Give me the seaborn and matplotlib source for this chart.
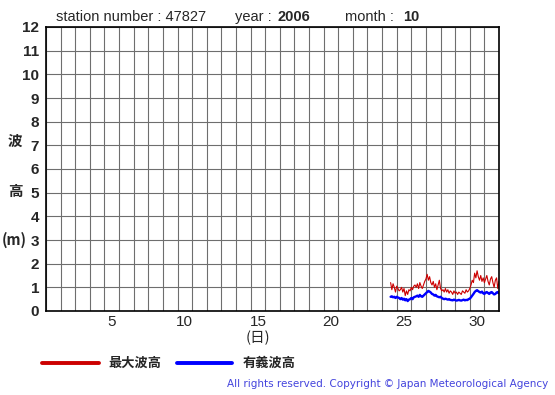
import numpy as np
import pandas as pd
import matplotlib
matplotlib.use("Agg")
import matplotlib.pyplot as plt
import seaborn as sns

# 観測データ (2006年10月, 地点 47827), 2時間ごと, 24日14時から
start_day = 24
start_hour = 14
step_hours = 2

max_wave = [1.2, 0.9, 1.15, 1.0, 0.8, 1.05, 0.95, 0.85,
            0.9, 1.0, 0.8, 0.95, 0.65, 0.85, 0.7, 0.9,
            0.85, 1.0, 0.9, 1.05, 1.1,
            1.0, 1.15, 0.95, 1.2, 1.05, 0.95, 1.1, 1.25,
            1.35, 1.55, 1.3, 1.45, 1.2, 1.1,
            1.25, 1.0, 1.15, 0.9, 1.1, 1.3, 0.95, 0.85, 0.9, 0.8, 0.95,
            0.8, 0.9, 0.75, 0.85, 0.8, 0.7, 0.85, 0.75, 0.8, 0.7,
            0.8, 0.75, 0.7, 0.85, 0.8, 0.75, 0.9, 0.8, 0.85, 0.95,
            1.1, 1.3, 1.2, 1.6, 1.4, 1.7, 1.45,
            1.3, 1.5, 1.25, 1.4, 1.2, 1.35, 1.5, 1.25,
            1.1, 1.35, 1.45, 1.2, 1.0, 1.3, 1.4, 0.95, 1.25]

sig_wave = [0.6, 0.62, 0.58, 0.6, 0.55, 0.6, 0.57, 0.55,
            0.5, 0.55, 0.48, 0.52, 0.45, 0.5, 0.42, 0.48,
            0.5, 0.55, 0.5, 0.58, 0.6,
            0.62, 0.65, 0.6, 0.68, 0.62, 0.6, 0.65, 0.7,
            0.75, 0.8, 0.85, 0.82, 0.78, 0.72,
            0.7, 0.65, 0.68, 0.62, 0.6, 0.58, 0.6, 0.55, 0.52, 0.5, 0.52,
            0.5, 0.48, 0.5, 0.47, 0.46, 0.45, 0.48, 0.46, 0.44, 0.45,
            0.47, 0.45, 0.44, 0.46, 0.48, 0.45, 0.47, 0.46, 0.5, 0.52,
            0.58, 0.65, 0.72, 0.8, 0.85, 0.88, 0.84,
            0.8, 0.78, 0.82, 0.75, 0.72, 0.78, 0.8, 0.76,
            0.72, 0.78, 0.8, 0.75, 0.7, 0.72, 0.78, 0.8, 0.75]

day_labels = [5, 10, 15, 20, 25, 30]
y_ticks = list(range(0, 13))

hours = start_hour + step_hours * np.arange(len(sig_wave))
df = pd.DataFrame({
    "day": start_day + hours / 24.0,
    "max": max_wave,
    "sig": sig_wave,
})

sns.set_style("white")
plt.rcParams["font.family"] = ["Noto Sans CJK JP", "DejaVu Sans"]
LAT = "Liberation Sans"

fig = plt.figure(figsize=(5.55, 3.95), dpi=100)
ax = fig.add_axes([46 / 555, 1 - 311 / 395, 453 / 555, 284 / 395])

sns.lineplot(data=df, x="day", y="max", color="#cc0000", linewidth=0.8, ax=ax)
sns.lineplot(data=df, x="day", y="sig", color="#0000ff", linewidth=1.7, ax=ax)

ax.set_xlim(1, 32)
ax.set_ylim(0, 12)
ax.set_xticks(np.arange(1, 33), minor=True)
ax.set_xticks([d + 0.5 for d in day_labels])
ax.set_xticklabels([str(d) for d in day_labels], fontsize=11, family=LAT)
ax.set_yticks(y_ticks)
ax.set_yticklabels([str(v) for v in y_ticks], fontsize=11, fontweight="bold", family=LAT)
ax.grid(True, which="minor", axis="x", color="#6e6e6e", linewidth=0.8)
ax.grid(True, which="major", axis="y", color="#6e6e6e", linewidth=0.8)
ax.tick_params(axis="x", which="both", length=0, pad=3)
ax.tick_params(axis="y", length=4, width=0.8, color="#555555", pad=1)
for s in ax.spines.values():
    s.set_color("black")
    s.set_linewidth(1.2)
ax.set_xlabel("")
ax.set_ylabel("")

# 軸ラベル
fig.text(258 / 555, 1 - 338 / 395, "(日)", ha="center", va="center", fontsize=10.5)
fig.text(15 / 555, 1 - 141 / 395, "波", ha="center", va="center", fontsize=10.5, fontweight="bold")
fig.text(15 / 555, 1 - 191 / 395, "高", ha="center", va="center", fontsize=10.5, fontweight="bold")
fig.text(14 / 555, 1 - 240 / 395, "(m)", ha="center", va="center", fontsize=10.5, fontweight="bold")

# タイトル
fig.text(56 / 555, 1 - 17 / 395, "station number : 47827", ha="left", va="center",
         fontsize=10.5, family=LAT)
fig.text(235 / 555, 1 - 17 / 395, "year : ", ha="left", va="center", fontsize=10.5, family=LAT)
fig.text(278 / 555, 1 - 17 / 395, "2006", ha="left", va="center", fontsize=10.5,
         fontweight="bold", family=LAT)
fig.text(345 / 555, 1 - 17 / 395, "month : ", ha="left", va="center", fontsize=10.5, family=LAT)
fig.text(403 / 555, 1 - 17 / 395, "10", ha="left", va="center", fontsize=10.5,
         fontweight="bold", family=LAT)

# 凡例
fig.add_artist(plt.Line2D([42 / 555, 99 / 555], [1 - 363 / 395] * 2, color="#cc0000", linewidth=2.8))
fig.text(108 / 555, 1 - 363 / 395, "最大波高", ha="left", va="center", fontsize=9.5, fontweight="bold")
fig.add_artist(plt.Line2D([177 / 555, 232 / 555], [1 - 363 / 395] * 2, color="#0000ff", linewidth=2.8))
fig.text(243 / 555, 1 - 363 / 395, "有義波高", ha="left", va="center", fontsize=9.5, fontweight="bold")

fig.text(548 / 555, 1 - 384 / 395, "All rights reserved. Copyright © Japan Meteorological Agency",
         ha="right", va="center", fontsize=7.5, color="#4444dd", family="DejaVu Sans")

fig.savefig("out.png", dpi=100)
